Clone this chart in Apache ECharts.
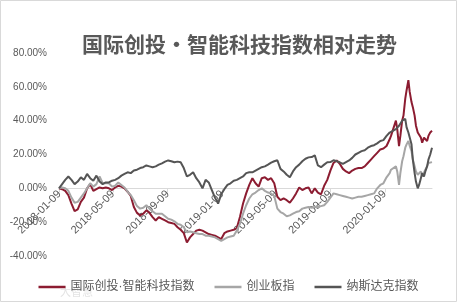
<!DOCTYPE html>
<html><head><meta charset="utf-8">
<script src="https://cdn.jsdelivr.net/npm/echarts@6/dist/echarts.min.js"></script>
<style>html,body{margin:0;padding:0;background:#fff}#c{width:457px;height:302px}</style>
</head><body><div id="c"></div>
<script>
const titleText = '国际创投·智能科技指数相对走势';
const seriesNames = ['国际创投·智能科技指数', '创业板指', '纳斯达克指数'];
const xTickLabels = ['2018-01-09','2018-05-09','2018-09-09','2019-01-09','2019-05-09','2019-09-09','2020-01-09'];
const xRange = ['2018-01-08', '2020-04-24'];
const yTicks = { min: -40, max: 80, interval: 20 };

const dates = [
"2018-01-08","2018-01-15","2018-01-22","2018-01-29","2018-02-05","2018-02-12","2018-02-19","2018-02-26","2018-03-05","2018-03-12",
"2018-03-19","2018-03-26","2018-04-02","2018-04-09","2018-04-16","2018-04-23","2018-04-30","2018-05-07","2018-05-14","2018-05-21",
"2018-05-28","2018-06-04","2018-06-11","2018-06-18","2018-06-25","2018-07-02","2018-07-09","2018-07-16","2018-07-23","2018-07-30",
"2018-08-06","2018-08-13","2018-08-20","2018-08-27","2018-09-03","2018-09-10","2018-09-17","2018-09-24","2018-10-01","2018-10-08",
"2018-10-15","2018-10-22","2018-10-29","2018-11-05","2018-11-12","2018-11-19","2018-11-26","2018-12-03","2018-12-10","2018-12-17",
"2018-12-24","2018-12-31",
"2019-01-07","2019-01-14","2019-01-21","2019-01-28","2019-02-04","2019-02-11","2019-02-18","2019-02-25","2019-03-04","2019-03-11",
"2019-03-18","2019-03-25","2019-04-01","2019-04-08","2019-04-15","2019-04-22","2019-04-29","2019-05-06","2019-05-13","2019-05-20",
"2019-05-27","2019-06-03","2019-06-10","2019-06-17","2019-06-24","2019-07-01","2019-07-08","2019-07-15","2019-07-22","2019-07-29",
"2019-08-05","2019-08-12","2019-08-19","2019-08-26","2019-09-02","2019-09-09","2019-09-16","2019-09-23","2019-09-30","2019-10-07",
"2019-10-14","2019-10-21","2019-10-28","2019-11-04","2019-11-11","2019-11-18","2019-11-25","2019-12-02","2019-12-09","2019-12-16",
"2019-12-23","2019-12-30",
"2020-01-06","2020-01-13","2020-01-20","2020-01-23","2020-02-03","2020-02-06","2020-02-10","2020-02-13","2020-02-17","2020-02-20",
"2020-02-24","2020-02-27","2020-03-02","2020-03-05","2020-03-09","2020-03-12","2020-03-16","2020-03-19","2020-03-23","2020-03-26",
"2020-03-30","2020-04-02","2020-04-06","2020-04-09","2020-04-13","2020-04-16","2020-04-20","2020-04-24"
];

const techIndex = [
0, -0.5, -1.5, -4, -9, -13.5, -12.5, -8, -5.5, 0,
2.5, -1.5, -0.5, 0.5, 0, 0.5, 0, -1, 0.5, 1.5,
1, 0, -2, -4.5, -11, -14.5, -16, -15, -13, -14.5,
-17, -19, -17, -18, -19, -20, -20.5, -21, -23, -24.5,
-26.5, -32, -29, -27, -25, -24.5, -25, -26, -27, -27.5,
-28, -29, -30, -26.5, -25.5, -25, -24.5, -23.5, -17, -9,
-3, 2, 6, 3, 1, 6, 6.5, 5, 6, 3,
-5, -7, -6, -7, -8.5, -6, -3, 0.5, -1, 0,
0.5, -3, 0, -2.5, -3.5, 1.5, 5, 10.5, 15, 16.5,
14.5, 11.5, 10, 9, 10.5, 11.5, 12, 12, 13, 15,
17, 19, 21, 23,
23.5, 25, 29, 31, 40, 35, 25, 31, 40, 43,
53, 58, 64, 57, 51, 48, 43, 37, 33, 32,
30, 27, 30, 31, 28, 31, 33, 34
];

const chinext = [
0, 0.5, 0, -1.5, -5.5, -8.5, -8, -5.5, -3, 0,
3, 1, 2.5, 7, 3, 3, 3, 1, 1.5, 3.5,
2, 0.5, -2, -4, -7, -10.5, -12, -11.5, -10, -12,
-13.5, -15, -15, -15, -16.5, -18, -18.5, -19.5, -21, -21.5,
-23, -26, -25.5, -26, -26.5, -27, -27, -28, -28, -28.5,
-29, -30, -31, -30, -29, -28.5, -28, -25, -21, -15,
-10, -6, -3.5, -2.5, -1, 0, -1.5, -2.5, -3, -4.5,
-12, -14, -15, -16.5, -16, -15, -14, -13.5, -12, -11.5,
-11, -11.5, -11, -11, -10.5, -10, -8, -5.5, -3, -3.5,
-4, -4.5, -5, -5.5, -6, -5.5, -5, -5, -4.5, -4,
-3.5, -3, 0, 2,
3, 6.5, 9, 11, 13, 10, 2, 9, 16, 19,
24, 26, 28, 25, 22, 17, 13, 10, 8, 9,
10, 7, 7, 11, 13, 15, 14, 15.5
];

const nasdaq = [
0, 2.5, 5, 7, 5, 2.5, 4, 6.5, 5, 8.5,
6, 4.5, 7.5, 4, 2.5, 3.5, 3.5, 4.5, 5, 6,
7.5, 8.5, 9.5, 9, 10.5, 11, 12, 12.5, 13.5, 13,
12.5, 13, 14, 14.8, 15.8, 16.5, 16, 15.4, 15.8, 15.4,
12, 7, 8, 9.5, 6, 3.5, 0, 5, 3.5, -1,
-5.5, -9, -3.5, -0.5, 2, 3, 4.5, 5, 6, 7,
9, 9.5, 9.5, 10.5, 11.5, 12.5, 13, 14, 15.2, 16,
16.6, 11.5, 10, 8, 6.5, 10, 12.5, 14, 16, 17.5,
18.3, 18.5, 19.5, 13.5, 12.5, 14, 15.4, 15.5, 16.6, 16,
15.4, 14.5, 15.5, 16.5, 18, 20, 21, 22, 22.5, 24,
25, 25.5, 26.6, 28,
28.5, 31, 33, 34, 35, 36, 37, 38, 40, 41,
41, 36, 33, 30, 26, 17, 9, 4, 0, 2,
6, 9, 7, 10, 13, 17, 20, 24
];

function parseDay(s) { const p = s.split('-').map(Number); return new Date(p[0], p[1] - 1, p[2]).getTime(); }
function pad(n) { return (n < 10 ? '0' : '') + n; }
function fmtDay(v) { const d = new Date(v); return d.getFullYear() + '-' + pad(d.getMonth() + 1) + '-' + pad(d.getDate()); }
function pairs(vals) { return dates.map((d, i) => [parseDay(d), vals[i]]); }

const tickValues = xTickLabels.map(parseDay);
const axisFont = "'Liberation Sans', Arial, sans-serif";
const cjkFont = "'Noto Sans CJK SC', sans-serif";
const legendFont = "'Liberation Sans', 'Noto Sans CJK SC', sans-serif";

const W = 457, H = 302;
const grid = { left: 59, right: 25, top: 53, bottom: 46 };
const plotH = H - grid.top - grid.bottom;
// shift the x axis (line + labels) up to the value 0 of the y axis
const zeroOffset = -plotH * (0 - yTicks.min) / (yTicks.max - yTicks.min);

const chart = echarts.init(document.getElementById('c'), null, { renderer: 'canvas' });
chart.setOption({
  animation: false,
  backgroundColor: '#ffffff',
  title: {
    text: titleText, left: 82, top: 34, padding: 0,
    textStyle: { fontFamily: cjkFont, fontSize: 21, fontWeight: 'bold', color: '#595959' }
  },
  legend: {
    data: seriesNames, left: 'center', top: 276, icon: 'rect', itemWidth: 27, itemHeight: 2.5, itemGap: 20,
    textStyle: { fontFamily: legendFont, fontSize: 12, color: '#595959' }
  },
  grid: Object.assign({ containLabel: false }, grid),
  xAxis: {
    type: 'value',
    min: parseDay(xRange[0]), max: parseDay(xRange[1]),
    offset: zeroOffset,
    axisLine: { onZero: false, lineStyle: { color: '#d9d9d9', width: 1 } },
    axisTick: { show: true, length: 4, customValues: tickValues, lineStyle: { color: '#d9d9d9' } },
    axisLabel: {
      customValues: tickValues, rotate: 45, fontSize: 11, color: '#595959', fontFamily: axisFont, margin: 4,
      formatter: v => fmtDay(v)
    },
    splitLine: { show: false }
  },
  yAxis: {
    type: 'value', min: yTicks.min, max: yTicks.max, interval: yTicks.interval,
    axisLine: { show: false }, axisTick: { show: false }, splitLine: { show: false },
    axisLabel: { fontSize: 10, color: '#595959', fontFamily: axisFont, margin: 12, formatter: v => v.toFixed(2) + '%' }
  },
  series: [
    { name: seriesNames[0], type: 'line', data: pairs(techIndex), symbol: 'none', showSymbol: false,
      itemStyle: { color: '#8c1c31' }, lineStyle: { color: '#8c1c31', width: 2 } },
    { name: seriesNames[1], type: 'line', data: pairs(chinext), symbol: 'none', showSymbol: false,
      itemStyle: { color: '#a6a6a6' }, lineStyle: { color: '#a6a6a6', width: 2 } },
    { name: seriesNames[2], type: 'line', data: pairs(nasdaq), symbol: 'none', showSymbol: false,
      itemStyle: { color: '#555555' }, lineStyle: { color: '#555555', width: 2 } }
  ],
  graphic: [
    { type: 'rect', shape: { x: 0.5, y: 0.5, width: W - 1, height: H - 1 }, style: { fill: null, stroke: '#d9d9d9', lineWidth: 1 }, silent: true },
    { type: 'text', left: 60, top: 286, style: { text: '大智慧', fill: '#e3e3e3', fontSize: 11, fontFamily: cjkFont }, silent: true }
  ]
});
</script></body></html>
